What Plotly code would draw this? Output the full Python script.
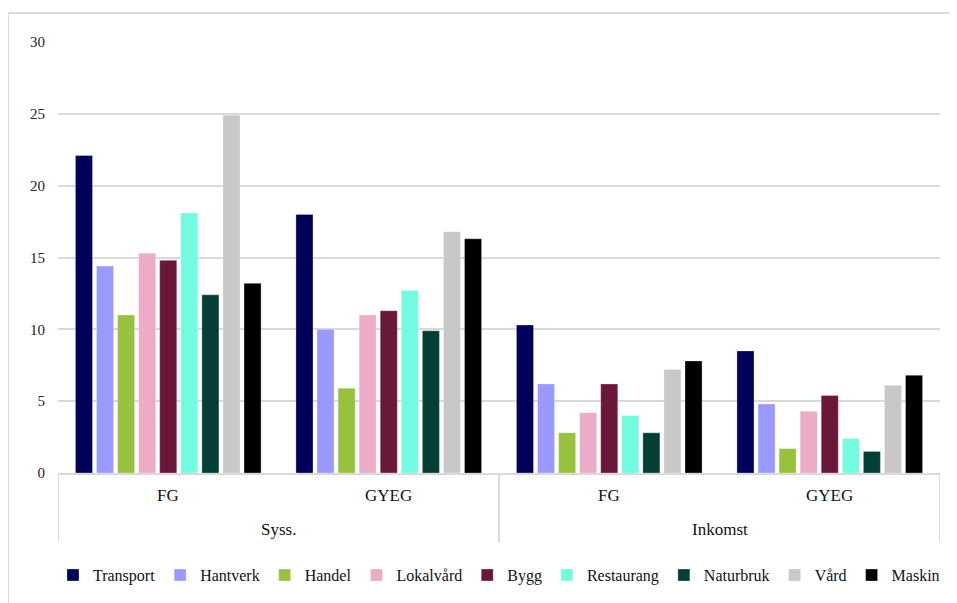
import plotly.graph_objects as go

outer = ["Syss.", "Syss.", "Inkomst", "Inkomst"]
inner = ["FG", "GYEG", "FG", "GYEG"]
categories = [o + " " + i for o, i in zip(outer, inner)]

series = ["Transport", "Hantverk", "Handel", "Lokalvård", "Bygg",
          "Restaurang", "Naturbruk", "Vård", "Maskin"]

transport = [22.1, 18.0, 10.3, 8.5]
hantverk = [14.4, 10.0, 6.2, 4.8]
handel = [11.0, 5.9, 2.8, 1.7]
lokalvard = [15.3, 11.0, 4.2, 4.3]
bygg = [14.8, 11.3, 6.2, 5.4]
restaurang = [18.1, 12.7, 4.0, 2.4]
naturbruk = [12.4, 9.9, 2.8, 1.5]
vard = [24.9, 16.8, 7.2, 6.1]
maskin = [13.2, 16.3, 7.8, 6.8]

values = [transport, hantverk, handel, lokalvard, bygg,
          restaurang, naturbruk, vard, maskin]

colors = ["#00005a", "#9999ff", "#98c23d", "#ecabc6", "#6b1739",
          "#72fbe0", "#033f37", "#c8c8c8", "#000000"]

FONT = "Liberation Serif"
GRID = "#d9d9d9"

fig = go.Figure()
for name, vals, col in zip(series, values, colors):
    fig.add_trace(go.Bar(
        x=categories, y=vals, name=name,
        marker=dict(color=col, line=dict(color="rgba(255,255,255,0.6)", width=0.5)),
    ))

annotations = []
# inner category labels
for idx, lab in enumerate(inner):
    annotations.append(dict(x=idx, xref="x", y=-0.053, yref="paper", text=lab,
                            showarrow=False, xanchor="center", yanchor="middle",
                            font=dict(family=FONT, size=17, color="#111111")))
# outer group labels
groups = []
for idx, o in enumerate(outer):
    if not groups or groups[-1][0] != o:
        groups.append([o, idx, idx])
    else:
        groups[-1][2] = idx
for o, a, b in groups:
    annotations.append(dict(x=(a + b) / 2, xref="x", y=-0.132, yref="paper", text=o,
                            showarrow=False, xanchor="center", yanchor="middle",
                            font=dict(family=FONT, size=17, color="#111111")))

shapes = [dict(type="rect", xref="paper", yref="paper",
               x0=-0.0567, x1=1.1, y0=-0.5, y1=1.067,
               line=dict(color=GRID, width=2), layer="below")]
divs = [groups[0][1] - 0.5] + [g[2] + 0.5 for g in groups]
for d in divs:
    shapes.append(dict(type="line", xref="x", yref="paper", x0=d, x1=d,
                       y0=-0.16, y1=0, line=dict(color=GRID, width=2)))

fig.update_layout(
    width=949, height=595,
    margin=dict(l=50, r=17, t=34, b=129),
    paper_bgcolor="white", plot_bgcolor="white",
    barmode="group", bargap=0.14, bargroupgap=0.19,
    font=dict(family=FONT, color="#222222", size=16),
    showlegend=True,
    legend=dict(orientation="h", x=-0.0057, xanchor="left",
                y=-0.234, yanchor="middle",
                font=dict(family=FONT, size=16, color="#111111"),
                itemwidth=30, traceorder="normal"),
    annotations=annotations,
    shapes=shapes,
)

fig.update_yaxes(range=[0, 30], dtick=5, showgrid=True, gridcolor=GRID, gridwidth=2,
                 zeroline=False, showline=False, automargin=False,
                 tickfont=dict(family=FONT, size=15, color="#222222"),
                 ticklabelstandoff=12)
fig.update_xaxes(type="category", range=[-0.5, 3.5], showline=True, linecolor=GRID, linewidth=2,
                 showticklabels=False, showgrid=False, automargin=False)

fig.write_html("out.html")
